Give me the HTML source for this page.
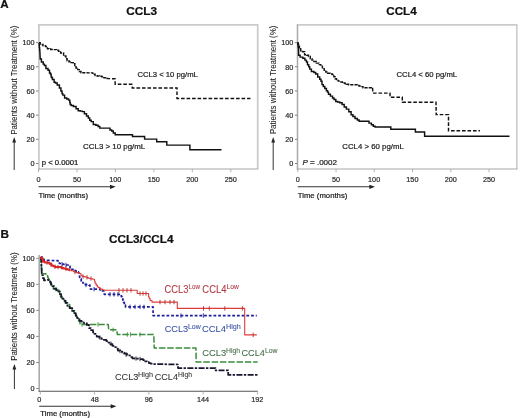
<!DOCTYPE html>
<html><head><meta charset="utf-8"><title>CCL3 CCL4 survival</title>
<style>html,body{margin:0;padding:0;background:#fff;width:520px;height:418px;overflow:hidden}svg{display:block;will-change:transform}</style>
</head><body>
<svg width="520" height="418" viewBox="0 0 520 418" font-family='"Liberation Sans", sans-serif'><rect width="520" height="418" fill="#fff"/><style>text{stroke-width:0.22px;stroke-linejoin:round}</style><text x="0.15" y="8.20" font-size="11.74" font-weight="bold" fill="#111" stroke="#111" textLength="8.43" lengthAdjust="spacingAndGlyphs">A</text><text x="0.57" y="237.90" font-size="11.30" font-weight="bold" fill="#111" stroke="#111" textLength="8.52" lengthAdjust="spacingAndGlyphs">B</text><text x="126.23" y="15.00" font-size="11.57" font-weight="bold" fill="#111" stroke="#111" textLength="30.97" lengthAdjust="spacingAndGlyphs">CCL3</text><text x="386.23" y="14.90" font-size="11.43" font-weight="bold" fill="#111" stroke="#111" textLength="30.48" lengthAdjust="spacingAndGlyphs">CCL4</text><text x="109.03" y="243.20" font-size="11.14" font-weight="bold" fill="#111" stroke="#111" textLength="64.48" lengthAdjust="spacingAndGlyphs">CCL3/CCL4</text><g fill="none"><polyline points="38.9,170 38.9,24.9 257.7,24.9 257.7,169" stroke="#cbcbcb" stroke-width="1.8"/><line x1="38.3" y1="169" x2="258.2" y2="169" stroke="#a8a8a8" stroke-width="1.15"/><polyline points="297.5,170 297.5,24.9 516.8,24.9 516.8,169" stroke="#cbcbcb" stroke-width="1.6"/><line x1="297.5" y1="24.5" x2="297.5" y2="170" stroke="#ababab" stroke-width="1.2"/><line x1="297.3" y1="169" x2="517.5" y2="169" stroke="#a8a8a8" stroke-width="1.15"/></g><text x="22.45" y="45.36" font-size="7.90" fill="#2a2a2a" stroke="#2a2a2a" textLength="12.13" lengthAdjust="spacingAndGlyphs">100</text><line x1="36.0" y1="42.60" x2="38.4" y2="42.60" stroke="#666" stroke-width="0.8"/><text x="26.52" y="69.55" font-size="7.90" fill="#2a2a2a" stroke="#2a2a2a" textLength="8.08" lengthAdjust="spacingAndGlyphs">80</text><line x1="36.0" y1="66.78" x2="38.4" y2="66.78" stroke="#666" stroke-width="0.8"/><text x="26.52" y="93.72" font-size="7.90" fill="#2a2a2a" stroke="#2a2a2a" textLength="8.08" lengthAdjust="spacingAndGlyphs">60</text><line x1="36.0" y1="90.96" x2="38.4" y2="90.96" stroke="#666" stroke-width="0.8"/><text x="26.52" y="117.91" font-size="7.90" fill="#2a2a2a" stroke="#2a2a2a" textLength="8.08" lengthAdjust="spacingAndGlyphs">40</text><line x1="36.0" y1="115.14" x2="38.4" y2="115.14" stroke="#666" stroke-width="0.8"/><text x="26.52" y="142.08" font-size="7.90" fill="#2a2a2a" stroke="#2a2a2a" textLength="8.08" lengthAdjust="spacingAndGlyphs">20</text><line x1="36.0" y1="139.32" x2="38.4" y2="139.32" stroke="#666" stroke-width="0.8"/><text x="30.52" y="166.26" font-size="7.90" fill="#2a2a2a" stroke="#2a2a2a" textLength="4.04" lengthAdjust="spacingAndGlyphs">0</text><line x1="36.0" y1="163.50" x2="38.4" y2="163.50" stroke="#666" stroke-width="0.8"/><text x="281.15" y="45.36" font-size="7.90" fill="#2a2a2a" stroke="#2a2a2a" textLength="12.13" lengthAdjust="spacingAndGlyphs">100</text><line x1="294.90000000000003" y1="42.60" x2="297.3" y2="42.60" stroke="#666" stroke-width="0.8"/><text x="285.22" y="69.55" font-size="7.90" fill="#2a2a2a" stroke="#2a2a2a" textLength="8.08" lengthAdjust="spacingAndGlyphs">80</text><line x1="294.90000000000003" y1="66.78" x2="297.3" y2="66.78" stroke="#666" stroke-width="0.8"/><text x="285.22" y="93.72" font-size="7.90" fill="#2a2a2a" stroke="#2a2a2a" textLength="8.08" lengthAdjust="spacingAndGlyphs">60</text><line x1="294.90000000000003" y1="90.96" x2="297.3" y2="90.96" stroke="#666" stroke-width="0.8"/><text x="285.22" y="117.91" font-size="7.90" fill="#2a2a2a" stroke="#2a2a2a" textLength="8.08" lengthAdjust="spacingAndGlyphs">40</text><line x1="294.90000000000003" y1="115.14" x2="297.3" y2="115.14" stroke="#666" stroke-width="0.8"/><text x="285.22" y="142.08" font-size="7.90" fill="#2a2a2a" stroke="#2a2a2a" textLength="8.08" lengthAdjust="spacingAndGlyphs">20</text><line x1="294.90000000000003" y1="139.32" x2="297.3" y2="139.32" stroke="#666" stroke-width="0.8"/><text x="289.22" y="166.26" font-size="7.90" fill="#2a2a2a" stroke="#2a2a2a" textLength="4.04" lengthAdjust="spacingAndGlyphs">0</text><line x1="294.90000000000003" y1="163.50" x2="297.3" y2="163.50" stroke="#666" stroke-width="0.8"/><text x="36.46" y="181.80" font-size="7.90" fill="#2a2a2a" stroke="#2a2a2a" textLength="4.04" lengthAdjust="spacingAndGlyphs">0</text><line x1="38.50" y1="169" x2="38.50" y2="172.2" stroke="#aaa" stroke-width="0.9"/><text x="72.92" y="181.80" font-size="7.90" fill="#2a2a2a" stroke="#2a2a2a" textLength="8.08" lengthAdjust="spacingAndGlyphs">50</text><line x1="76.95" y1="169" x2="76.95" y2="172.2" stroke="#aaa" stroke-width="0.9"/><text x="109.19" y="181.80" font-size="7.90" fill="#2a2a2a" stroke="#2a2a2a" textLength="12.13" lengthAdjust="spacingAndGlyphs">100</text><line x1="115.40" y1="169" x2="115.40" y2="172.2" stroke="#aaa" stroke-width="0.9"/><text x="147.64" y="181.80" font-size="7.90" fill="#2a2a2a" stroke="#2a2a2a" textLength="12.13" lengthAdjust="spacingAndGlyphs">150</text><line x1="153.85" y1="169" x2="153.85" y2="172.2" stroke="#aaa" stroke-width="0.9"/><text x="186.19" y="181.80" font-size="7.90" fill="#2a2a2a" stroke="#2a2a2a" textLength="12.13" lengthAdjust="spacingAndGlyphs">200</text><line x1="192.30" y1="169" x2="192.30" y2="172.2" stroke="#aaa" stroke-width="0.9"/><text x="224.64" y="181.80" font-size="7.90" fill="#2a2a2a" stroke="#2a2a2a" textLength="12.13" lengthAdjust="spacingAndGlyphs">250</text><line x1="230.75" y1="169" x2="230.75" y2="172.2" stroke="#aaa" stroke-width="0.9"/><text x="295.76" y="181.80" font-size="7.90" fill="#2a2a2a" stroke="#2a2a2a" textLength="4.04" lengthAdjust="spacingAndGlyphs">0</text><line x1="297.80" y1="169" x2="297.80" y2="172.2" stroke="#aaa" stroke-width="0.9"/><text x="332.02" y="181.80" font-size="7.90" fill="#2a2a2a" stroke="#2a2a2a" textLength="8.08" lengthAdjust="spacingAndGlyphs">50</text><line x1="336.05" y1="169" x2="336.05" y2="172.2" stroke="#aaa" stroke-width="0.9"/><text x="368.09" y="181.80" font-size="7.90" fill="#2a2a2a" stroke="#2a2a2a" textLength="12.13" lengthAdjust="spacingAndGlyphs">100</text><line x1="374.30" y1="169" x2="374.30" y2="172.2" stroke="#aaa" stroke-width="0.9"/><text x="406.34" y="181.80" font-size="7.90" fill="#2a2a2a" stroke="#2a2a2a" textLength="12.13" lengthAdjust="spacingAndGlyphs">150</text><line x1="412.55" y1="169" x2="412.55" y2="172.2" stroke="#aaa" stroke-width="0.9"/><text x="444.69" y="181.80" font-size="7.90" fill="#2a2a2a" stroke="#2a2a2a" textLength="12.13" lengthAdjust="spacingAndGlyphs">200</text><line x1="450.80" y1="169" x2="450.80" y2="172.2" stroke="#aaa" stroke-width="0.9"/><text x="482.94" y="181.80" font-size="7.90" fill="#2a2a2a" stroke="#2a2a2a" textLength="12.13" lengthAdjust="spacingAndGlyphs">250</text><line x1="489.05" y1="169" x2="489.05" y2="172.2" stroke="#aaa" stroke-width="0.9"/><line x1="38.5" y1="186.8" x2="111.5" y2="186.8" stroke="#333" stroke-width="1.05"/><path d="M115.7,186.8 L110.0,184.7 L110.0,188.9 Z" fill="#222"/><text x="38.45" y="198.10" font-size="7.81" fill="#222" stroke="#222" textLength="49.61" lengthAdjust="spacingAndGlyphs">Time (months)</text><line x1="14.2" y1="170" x2="14.2" y2="141" stroke="#333" stroke-width="1"/><path d="M14.2,137 L12.299999999999999,142.5 L16.099999999999998,142.5 Z" fill="#222"/><text transform="translate(16.50,134.84) rotate(-90)" x="0" y="0" font-size="8.71" fill="#222" stroke="#222" textLength="109.34" lengthAdjust="spacingAndGlyphs" style="stroke-width:0.05px">Patients without Treatment (%)</text><line x1="297.8" y1="186.8" x2="370.8" y2="186.8" stroke="#333" stroke-width="1.05"/><path d="M375.0,186.8 L369.3,184.7 L369.3,188.9 Z" fill="#222"/><text x="297.75" y="198.10" font-size="7.81" fill="#222" stroke="#222" textLength="49.61" lengthAdjust="spacingAndGlyphs">Time (months)</text><line x1="273.2" y1="170" x2="273.2" y2="141" stroke="#333" stroke-width="1"/><path d="M273.2,137 L271.3,142.5 L275.09999999999997,142.5 Z" fill="#222"/><text transform="translate(276.20,134.24) rotate(-90)" x="0" y="0" font-size="9.00" fill="#222" stroke="#222" textLength="108.73" lengthAdjust="spacingAndGlyphs" style="stroke-width:0.05px">Patients without Treatment (%)</text><g fill="none" stroke="#111" stroke-width="1.45" stroke-linejoin="miter"><polyline points="39.0,43.0 39.1,43.0 39.1,45.0 39.3,45.0 39.3,47.5 39.6,47.5 39.6,50.0 39.8,50.0 40.2,58.9 41.4,58.9 41.4,62.0 42.5,62.0 43.2,62.0 43.2,64.1 44.4,64.1 44.4,65.5 45.0,65.5 45.9,65.5 45.9,68.5 46.8,68.5 48.0,68.5 48.0,70.3 49.2,70.3 49.5,70.3 49.5,72.9 50.4,72.9 50.4,73.9 51.0,73.9 51.1,73.9 51.1,76.1 51.4,76.1 51.4,77.5 51.6,77.5 52.4,77.5 52.4,79.5 54.1,79.5 54.1,82.3 55.1,82.3 55.5,82.3 55.5,82.9 56.0,82.9 57.2,82.9 57.2,85.0 58.5,85.0 59.4,85.0 59.4,87.9 60.3,87.9 60.9,87.9 60.9,91.0 61.5,91.0 62.0,91.0 62.0,93.6 62.8,93.6 62.8,95.1 63.2,95.1 64.6,95.1 64.6,97.9 66.0,97.9 66.8,97.9 66.8,99.0 68.6,99.0 68.6,100.1 69.6,100.1 69.8,100.1 69.8,102.4 70.2,102.4 70.2,104.4 70.3,104.4 71.2,104.4 71.2,105.5 73.4,105.5 73.4,106.5 74.7,106.5 76.1,106.5 76.1,108.7 77.5,108.7 78.2,108.7 78.2,110.8 79.0,110.8 80.3,110.8 80.3,111.1 82.4,111.1 82.4,111.6 83.3,111.6 84.4,111.6 84.4,113.7 86.5,113.7 86.5,115.9 87.6,115.9 88.3,115.9 88.3,118.0 89.7,118.0 89.7,120.3 91.2,120.3 91.2,121.6 91.9,121.6 93.3,121.6 93.3,124.5 94.7,124.5 95.9,124.5 95.9,125.3 98.1,125.3 98.1,126.4 99.8,126.4 99.8,128.1 100.5,128.1 109.0,128.1 110.0,128.1 110.0,130.0 111.7,130.0 111.7,131.0 112.5,131.0 113.3,131.0 113.3,133.0 115.2,133.0 115.2,134.8 116.3,134.8 132.5,134.8 132.5,136.5 144.6,136.5 144.6,139.1 156.7,139.1 156.7,141.7 166.8,141.7 166.8,145.1 189.9,145.1 189.9,149.8 221.5,149.8"/><polyline points="39.0,42.8 40.2,42.8 40.2,44.5 41.5,44.5 43.0,44.5 43.0,45.8 44.4,45.8 45.6,45.8 45.6,46.6 47.4,46.6 47.4,48.8 48.0,48.8 48.9,48.8 48.9,49.0 50.7,49.0 50.7,49.4 53.3,49.4 53.3,49.6 55.1,49.6 56.4,49.6 56.4,50.3 58.5,50.3 58.5,51.2 59.3,51.2 60.6,51.2 60.6,53.0 62.0,53.0 63.6,53.0 63.6,56.0 65.3,56.0 65.9,56.0 65.9,58.8 67.1,58.8 67.1,60.7 67.7,60.7 69.0,60.7 69.0,61.7 71.1,61.7 71.1,62.6 73.2,62.6 73.2,63.7 74.3,63.7 74.8,63.7 74.8,65.4 76.0,65.4 76.0,67.9 76.7,67.9 77.7,67.9 77.7,69.6 79.2,69.6 79.2,71.5 79.7,71.5 81.0,71.5 81.0,72.7 82.3,72.7 91.5,72.9 92.8,72.9 92.8,74.3 95.1,74.3 95.1,75.6 96.1,75.6 97.1,75.6 97.1,76.0 99.3,76.0 99.3,76.3 101.8,76.3 101.8,76.7 103.1,76.7 103.9,76.7 103.9,77.8 105.6,77.8 105.6,78.5 106.5,78.5" stroke-dasharray="3.2 1.1"/><polyline points="106.5,78.5 115.0,78.8 115.2,84.2 131.8,84.2 132.3,88.0 177.0,88.0 177.0,98.4 250.4,98.4" stroke-dasharray="3.6 1.9"/><polyline points="297.6,42.8 297.8,42.8 297.8,44.1 298.2,44.1 298.2,47.2 298.5,47.2 298.5,50.0 298.6,50.0 298.6,55.3 300.1,55.3 300.1,57.1 301.6,57.1 302.8,57.1 302.8,58.3 304.0,58.3 304.9,58.3 304.9,60.1 306.4,60.1 306.4,61.9 307.0,61.9 307.5,61.9 307.5,64.7 308.7,64.7 308.7,66.7 309.4,66.7 309.7,66.7 309.7,69.1 310.0,69.1 311.4,69.1 311.4,71.5 312.9,71.5 313.9,71.5 313.9,72.4 315.7,72.4 315.7,73.9 316.5,73.9 317.7,73.9 317.7,76.9 318.9,76.9 319.7,76.9 319.7,79.3 321.0,79.3 321.0,81.2 321.5,81.2 322.0,81.2 322.0,84.6 323.3,84.6 323.3,86.5 324.0,86.5 324.8,86.5 324.8,88.5 326.4,88.5 326.4,90.8 327.2,90.8 327.6,90.8 327.6,92.1 328.5,92.1 328.5,94.3 329.0,94.3 330.4,94.3 330.4,96.1 332.5,96.1 332.5,97.9 333.1,97.9 334.0,97.9 334.0,99.4 335.8,99.4 335.8,101.5 336.7,101.5 337.6,101.5 337.6,102.0 339.7,102.0 339.7,102.7 340.9,102.7 342.1,102.7 342.1,104.5 344.2,104.5 344.2,106.9 345.1,106.9 346.4,106.9 346.4,109.1 348.8,109.1 348.8,111.7 349.9,111.7 351.1,111.7 351.1,114.7 352.9,114.7 352.9,116.4 353.5,116.4 355.0,116.4 355.0,118.4 357.3,118.4 357.3,120.0 358.2,120.0 359.1,120.0 359.1,121.2 360.0,121.2 367.8,121.2 369.0,121.2 369.0,123.1 371.4,123.1 371.4,124.8 372.6,124.8 373.3,124.8 373.3,126.3 375.1,126.3 375.1,127.0 376.2,127.0 390.8,127.0 390.8,129.2 415.4,129.2 415.4,132.0 424.6,132.0 424.6,136.3 509.5,136.3"/><polyline points="297.6,42.8 298.0,42.8 298.0,44.7 298.6,44.7 298.6,46.3 299.4,46.3 299.4,48.8 299.8,48.8 300.7,48.8 300.7,50.7 302.5,50.7 302.5,51.8 303.4,51.8 304.6,51.8 304.6,54.7 305.8,54.7 306.7,54.7 306.7,55.3 308.5,55.3 308.5,56.5 309.4,56.5 310.3,56.5 310.3,58.8 312.0,58.8 312.0,60.1 312.9,60.1 313.9,60.1 313.9,61.5 316.3,61.5 316.3,63.1 317.7,63.1 319.0,63.1 319.0,64.6 320.8,64.6 320.8,66.1 321.3,66.1 322.4,66.1 322.4,68.7 324.2,68.7 324.2,70.3 324.9,70.3 325.8,70.3 325.8,72.0 327.6,72.0 327.6,73.3 328.5,73.3 329.9,73.3 329.9,73.9 332.3,73.9 332.3,74.5 333.3,74.5 333.9,74.5 333.9,76.8 335.1,76.8 335.1,78.7 335.7,78.7 336.5,78.7 336.5,80.4 338.3,80.4 338.3,81.1 339.3,81.1 340.1,81.1 340.1,81.9 342.4,81.9 342.4,83.0 344.0,83.0 344.9,83.0 344.9,83.5 346.5,83.5 346.5,84.3 348.6,84.3 348.6,84.8 349.9,84.8 355.8,84.8 357.0,84.8 357.0,85.5 359.1,85.5 359.1,86.0 360.9,86.0 360.9,86.6 361.8,86.6 363.0,86.6 363.0,87.8 364.2,87.8 372.6,87.8" stroke-dasharray="3.2 1.1"/><polyline points="372.6,87.8 372.8,93.1 390.0,93.1 390.0,97.2 402.3,97.2 402.3,102.3 436.0,102.3 436.2,114.6 448.5,114.6 448.5,130.8 480.0,130.8" stroke-dasharray="3.6 1.9"/></g><text x="137.42" y="77.00" font-size="7.71" fill="#222" stroke="#222" textLength="60.46" lengthAdjust="spacingAndGlyphs">CCL3 &lt; 10 pg/mL</text><text x="83.10" y="149.10" font-size="7.86" fill="#222" stroke="#222" textLength="62.18" lengthAdjust="spacingAndGlyphs">CCL3 &gt; 10 pg/mL</text><text x="396.51" y="77.10" font-size="7.71" fill="#222" stroke="#222" textLength="60.66" lengthAdjust="spacingAndGlyphs">CCL4 &lt; 60 pg/mL</text><text x="342.31" y="149.10" font-size="7.86" fill="#222" stroke="#222" textLength="61.47" lengthAdjust="spacingAndGlyphs">CCL4 &gt; 60 pg/mL</text><text x="41.76" y="165.10" font-size="6.86" fill="#222" stroke="#222" textLength="36.66" lengthAdjust="spacingAndGlyphs">p &lt; 0.0001</text><text x="302.4" y="165.3" font-size="8.1" fill="#222" stroke="#222" textLength="34.6" lengthAdjust="spacingAndGlyphs"><tspan font-style="italic">P</tspan> = .0002</text><line x1="39.2" y1="255" x2="39.2" y2="392" stroke="#aaa" stroke-width="1.6"/><line x1="38.8" y1="391.3" x2="258" y2="391.3" stroke="#555" stroke-width="1.1"/><text x="22.45" y="261.06" font-size="7.90" fill="#2a2a2a" stroke="#2a2a2a" textLength="12.13" lengthAdjust="spacingAndGlyphs">100</text><line x1="36.300000000000004" y1="258.30" x2="38.7" y2="258.30" stroke="#666" stroke-width="0.8"/><text x="26.52" y="287.11" font-size="7.90" fill="#2a2a2a" stroke="#2a2a2a" textLength="8.08" lengthAdjust="spacingAndGlyphs">80</text><line x1="36.300000000000004" y1="284.34" x2="38.7" y2="284.34" stroke="#666" stroke-width="0.8"/><text x="26.52" y="313.14" font-size="7.90" fill="#2a2a2a" stroke="#2a2a2a" textLength="8.08" lengthAdjust="spacingAndGlyphs">60</text><line x1="36.300000000000004" y1="310.38" x2="38.7" y2="310.38" stroke="#666" stroke-width="0.8"/><text x="26.52" y="339.19" font-size="7.90" fill="#2a2a2a" stroke="#2a2a2a" textLength="8.08" lengthAdjust="spacingAndGlyphs">40</text><line x1="36.300000000000004" y1="336.42" x2="38.7" y2="336.42" stroke="#666" stroke-width="0.8"/><text x="26.52" y="365.22" font-size="7.90" fill="#2a2a2a" stroke="#2a2a2a" textLength="8.08" lengthAdjust="spacingAndGlyphs">20</text><line x1="36.300000000000004" y1="362.46" x2="38.7" y2="362.46" stroke="#666" stroke-width="0.8"/><text x="30.52" y="391.26" font-size="7.90" fill="#2a2a2a" stroke="#2a2a2a" textLength="4.04" lengthAdjust="spacingAndGlyphs">0</text><line x1="36.300000000000004" y1="388.50" x2="38.7" y2="388.50" stroke="#666" stroke-width="0.8"/><text x="37.26" y="401.90" font-size="7.90" fill="#2a2a2a" stroke="#2a2a2a" textLength="4.04" lengthAdjust="spacingAndGlyphs">0</text><line x1="40.30" y1="391.3" x2="40.30" y2="394.5" stroke="#aaa" stroke-width="0.9"/><text x="90.63" y="401.90" font-size="7.90" fill="#2a2a2a" stroke="#2a2a2a" textLength="8.08" lengthAdjust="spacingAndGlyphs">48</text><line x1="94.59" y1="391.3" x2="94.59" y2="394.5" stroke="#aaa" stroke-width="0.9"/><text x="144.81" y="401.90" font-size="7.90" fill="#2a2a2a" stroke="#2a2a2a" textLength="8.08" lengthAdjust="spacingAndGlyphs">96</text><line x1="148.88" y1="391.3" x2="148.88" y2="394.5" stroke="#aaa" stroke-width="0.9"/><text x="196.91" y="401.90" font-size="7.90" fill="#2a2a2a" stroke="#2a2a2a" textLength="12.13" lengthAdjust="spacingAndGlyphs">144</text><line x1="203.16" y1="391.3" x2="203.16" y2="394.5" stroke="#aaa" stroke-width="0.9"/><text x="251.27" y="401.90" font-size="7.90" fill="#2a2a2a" stroke="#2a2a2a" textLength="12.13" lengthAdjust="spacingAndGlyphs">192</text><line x1="257.45" y1="391.3" x2="257.45" y2="394.5" stroke="#aaa" stroke-width="0.9"/><line x1="39.2" y1="406.3" x2="112" y2="406.3" stroke="#333" stroke-width="1.05"/><path d="M116.4,406.3 L110.7,404.2 L110.7,408.4 Z" fill="#222"/><text x="40.24" y="415.60" font-size="7.26" fill="#222" stroke="#222" textLength="49.81" lengthAdjust="spacingAndGlyphs">Time (months)</text><line x1="14.4" y1="389" x2="14.4" y2="368" stroke="#333" stroke-width="1"/><path d="M14.4,364 L12.5,369.5 L16.3,369.5 Z" fill="#222"/><text transform="translate(17.10,360.83) rotate(-90)" x="0" y="0" font-size="8.86" fill="#222" stroke="#222" textLength="108.43" lengthAdjust="spacingAndGlyphs" style="stroke-width:0.05px">Patients without Treatment (%)</text><g fill="none" stroke-linejoin="round"><polyline points="40.9,256.9 41.0,256.9 41.0,259.7 41.1,259.7 41.1,262.0 41.2,262.0 41.2,264.8 41.3,264.8 41.3,266.0 41.5,266.0 41.5,267.9 41.6,267.9 41.6,269.3 41.7,269.3 41.7,271.4 41.8,271.4 41.8,273.5 41.8,273.5 42.9,273.5 42.9,273.7 45.6,273.7 45.6,274.1 47.1,274.1 47.6,274.1 47.6,277.3 48.3,277.3 48.3,278.9 48.5,278.9 49.1,278.9 49.1,280.2 50.0,280.2 50.0,281.5 50.7,281.5 50.7,284.1 51.7,284.1 51.7,286.6 52.4,286.6 53.3,286.6 53.3,289.0 54.3,289.0 58.1,289.4 58.6,289.4 58.6,291.7 59.7,291.7 59.7,294.4 60.6,294.4 60.6,297.1 61.6,297.1 61.6,298.6 62.3,298.6 63.5,298.6 63.5,300.9 65.7,300.9 65.7,302.9 66.6,302.9 67.5,302.9 67.5,304.4 69.7,304.4 69.7,308.0 70.9,308.0 72.0,308.0 72.0,310.9 74.1,310.9 74.1,313.0 75.2,313.0 75.9,313.0 75.9,316.4 77.3,316.4 77.3,318.0 78.1,318.0 78.6,318.0 78.6,320.7 79.4,320.7 79.4,321.8 80.0,321.8 80.0,324.4 80.5,324.4 108.2,324.4 108.7,329.8 116.8,329.8 117.3,334.5 153.8,334.5 154.2,348.1 195.9,348.1 196.2,362.1 257.6,362.1" stroke="#3c8c3c" stroke-width="1.5" stroke-dasharray="6.5 1.8"/><g stroke="#3c8c3c" stroke-width="0.9"><line x1="56" y1="287.0" x2="56" y2="291.4"/><line x1="82" y1="322.2" x2="82" y2="326.59999999999997"/><line x1="98" y1="322.2" x2="98" y2="326.59999999999997"/><line x1="113.1" y1="327.6" x2="113.1" y2="332.0"/><line x1="127.3" y1="332.3" x2="127.3" y2="336.7"/><line x1="130.4" y1="332.3" x2="130.4" y2="336.7"/><line x1="140" y1="332.3" x2="140" y2="336.7"/></g><polyline points="40.9,256.9 41.0,256.9 41.0,259.6 41.2,259.6 41.2,261.5 41.3,261.5 41.3,264.2 41.4,264.2 41.4,265.8 41.5,265.8 41.5,268.6 41.6,268.6 41.6,271.2 41.7,271.2 41.7,273.2 41.8,273.2 42.2,273.2 42.2,275.1 42.9,275.1 42.9,278.0 43.3,278.0 44.0,278.0 44.0,280.4 44.7,280.4 47.6,279.9 48.5,279.9 48.5,281.3 49.5,281.3 50.1,281.3 50.1,282.4 51.0,282.4 51.0,284.7 51.4,284.7 52.3,284.7 52.3,286.1 53.3,286.1 54.2,286.1 54.2,288.5 55.2,288.5 56.3,288.5 56.3,290.2 58.2,290.2 58.2,291.4 59.0,291.4 60.0,291.4 60.0,294.2 61.0,294.2 61.2,294.2 61.2,296.8 61.9,296.8 61.9,298.6 62.3,298.6 63.4,298.6 63.4,300.6 65.5,300.6 65.5,302.9 66.6,302.9 67.4,302.9 67.4,305.8 69.6,305.8 69.6,308.0 70.9,308.0 72.3,308.0 72.3,310.9 74.4,310.9 74.4,313.0 75.2,313.0 75.7,313.0 75.7,315.7 77.2,315.7 77.2,318.0 78.1,318.0 79.5,318.0 79.5,320.9 81.0,320.9 81.7,320.9 81.7,322.4 83.9,322.4 83.9,323.0 85.3,323.0 86.8,323.0 86.8,324.9 89.0,324.9 89.0,328.0 89.6,328.0 90.9,328.0 90.9,330.1 93.0,330.1 93.0,332.3 93.9,332.3 94.5,332.3 94.5,333.9 96.7,333.9 96.7,336.6 98.2,336.6 99.4,336.6 99.4,338.1 101.6,338.1 101.6,338.8 102.5,338.8 103.8,338.8 103.8,339.8 106.4,339.8 106.4,341.0 107.7,341.0 108.5,341.0 108.5,342.5 110.3,342.5 110.3,344.0 112.4,344.0 112.4,345.8 113.5,345.8 114.4,345.8 114.4,347.0 116.0,347.0 116.0,348.6 117.9,348.6 117.9,350.6 119.2,350.6 120.3,350.6 120.3,351.6 122.3,351.6 122.3,352.5 124.2,352.5 124.2,353.7 127.0,353.7 127.0,355.4 128.8,355.4 129.9,355.4 129.9,357.0 132.4,357.0 132.4,358.3 133.7,358.3 134.7,358.3 134.7,358.5 136.9,358.5 136.9,358.7 139.4,358.7 139.4,359.0 141.5,359.0 141.5,359.2 142.3,359.2 143.1,359.2 143.1,360.1 145.0,360.1 145.0,361.3 147.1,361.3 147.1,362.1 148.1,362.1 148.9,362.1 148.9,363.1 150.6,363.1 150.6,363.6 152.6,363.6 152.6,364.0 153.8,364.0 178.0,364.5 178.0,368.0 214.2,368.0 215.6,368.0 215.6,370.4 216.9,370.4 228.2,370.4 228.2,374.9 257.6,374.9" stroke="#16162e" stroke-width="1.75" stroke-dasharray="6 1.4 2.4 1.4"/><g stroke="#222" stroke-width="0.9"><line x1="100" y1="335.5" x2="100" y2="339.9"/><line x1="111" y1="341.6" x2="111" y2="346.0"/><line x1="120" y1="348.8" x2="120" y2="353.2"/><line x1="126" y1="352.3" x2="126" y2="356.7"/><line x1="136" y1="356.3" x2="136" y2="360.7"/><line x1="140" y1="356.8" x2="140" y2="361.2"/></g><polyline points="40.9,256.9 42.0,256.9 42.0,259.2 43.9,259.2 43.9,260.3 44.7,260.3 57.1,260.7 58.0,260.7 58.0,263.1 59.0,263.1 59.7,263.1 59.7,263.5 61.6,263.5 61.6,264.1 62.9,264.1 63.8,264.1 63.8,264.5 65.7,264.5 65.7,265.0 66.7,265.0 68.2,265.0 68.2,266.0 69.6,266.0 70.0,266.0 70.0,267.9 71.0,267.9 71.0,269.4 71.5,269.4 73.0,269.4 73.0,270.7 74.6,270.7 76.1,270.7 76.1,271.9 78.4,271.9 78.4,273.0 79.2,273.0 79.8,278.7 81.2,278.7 81.2,281.0 82.7,281.0 82.9,281.0 82.9,283.0 83.5,283.0 83.5,284.5 83.8,284.5 85.2,284.5 85.2,284.7 87.4,284.7 87.4,284.9 88.9,284.9 88.9,285.1 89.6,285.1 89.9,285.1 89.9,287.3 90.5,287.3 90.5,289.1 90.8,289.1 98.8,289.1 100.0,289.1 100.0,289.8 102.3,289.8 102.3,290.8 103.4,290.8 103.7,290.8 103.7,292.9 104.3,292.9 104.3,294.3 104.6,294.3 120.7,294.3 121.3,294.3 121.3,296.6 121.9,296.6 122.2,296.6 122.2,298.0 122.8,298.0 122.8,300.1 123.1,300.1 123.4,300.1 123.4,302.3 124.3,302.3 124.3,305.2 125.5,305.2 125.5,306.9 126.2,306.9 153.1,306.9 153.1,315.6 256.8,315.6" stroke="#1c1c9c" stroke-width="1.7" stroke-dasharray="2.8 1.9"/><g stroke="#1c1c9c" stroke-width="0.9"><line x1="62" y1="261.90000000000003" x2="62" y2="266.3"/><line x1="66" y1="262.8" x2="66" y2="267.2"/><line x1="86" y1="282.8" x2="86" y2="287.2"/><line x1="94" y1="286.90000000000003" x2="94" y2="291.3"/><line x1="110" y1="292.1" x2="110" y2="296.5"/><line x1="114" y1="292.1" x2="114" y2="296.5"/><line x1="118" y1="292.1" x2="118" y2="296.5"/><line x1="130" y1="304.7" x2="130" y2="309.09999999999997"/><line x1="135" y1="304.7" x2="135" y2="309.09999999999997"/><line x1="140" y1="304.7" x2="140" y2="309.09999999999997"/><line x1="144" y1="304.7" x2="144" y2="309.09999999999997"/><line x1="181" y1="313.40000000000003" x2="181" y2="317.8"/><line x1="203.3" y1="313.40000000000003" x2="203.3" y2="317.8"/></g><polyline points="40.9,256.9 41.4,256.9 41.4,258.5 42.8,258.5 42.8,261.7 43.7,261.7 44.8,261.7 44.8,262.4 47.2,262.4 47.2,262.7 48.5,262.7 49.6,262.7 49.6,264.1 51.5,264.1 51.5,265.5 52.4,265.5 53.1,265.5 53.1,266.2 55.0,266.2 55.0,267.0 56.2,267.0 60.0,267.0 61.5,267.0 61.5,267.9 62.9,267.9 63.6,267.9 63.6,268.5 65.5,268.5 65.5,268.9 66.7,268.9 67.3,268.9 67.3,269.4 69.2,269.4 69.2,270.3 70.5,270.3" stroke="#e02828" stroke-width="2"/><polyline points="70.5,270.3 71.6,270.3 71.6,270.8 73.6,270.8 73.6,271.8 74.6,271.8 75.1,271.8 75.1,272.2 76.6,272.2 76.6,272.8 79.0,272.8 79.0,273.5 80.4,273.5 81.0,273.5 81.0,275.8 81.5,275.8 82.8,275.8 82.8,276.6 85.1,276.6 85.1,277.0 86.1,277.0 86.9,277.0 86.9,277.6 88.3,277.6 88.3,278.2 90.1,278.2 90.1,278.7 92.7,278.7 92.7,279.3 94.2,279.3 94.5,279.3 94.5,281.3 95.1,281.3 95.1,283.3 95.4,283.3 96.1,283.3 96.1,285.1 97.3,285.1 97.3,286.8 97.7,286.8 98.3,286.8 98.3,287.6 100.0,287.6 100.0,289.1 101.1,289.1 102.3,289.1 102.3,289.7 104.1,289.7 104.1,290.3 104.6,290.3 136.7,290.3 137.2,290.3 137.2,293.5 137.7,293.5 148.3,293.5 148.6,293.5 148.6,296.6 149.1,296.6 149.1,298.3 149.2,298.3 150.1,298.3 150.1,300.5 152.0,300.5 152.0,302.1 153.1,302.1 177.3,302.1 177.3,308.4 244.7,308.4 244.7,334.9 256.8,334.9" stroke="#dd3a3a" stroke-width="1.1"/><g stroke="#b03030" stroke-width="0.9"><line x1="47" y1="260.3" x2="47" y2="264.7"/><line x1="51" y1="262.3" x2="51" y2="266.7"/><line x1="55" y1="264.6" x2="55" y2="269.0"/><line x1="58" y1="264.8" x2="58" y2="269.2"/><line x1="62" y1="265.3" x2="62" y2="269.7"/><line x1="66" y1="266.5" x2="66" y2="270.9"/><line x1="75" y1="269.8" x2="75" y2="274.2"/><line x1="83" y1="274.3" x2="83" y2="278.7"/><line x1="87" y1="275.1" x2="87" y2="279.5"/><line x1="91" y1="276.3" x2="91" y2="280.7"/><line x1="119" y1="288.1" x2="119" y2="292.5"/><line x1="123" y1="288.1" x2="123" y2="292.5"/><line x1="127" y1="288.1" x2="127" y2="292.5"/><line x1="131" y1="288.1" x2="131" y2="292.5"/><line x1="140" y1="291.3" x2="140" y2="295.7"/><line x1="143" y1="291.3" x2="143" y2="295.7"/><line x1="146" y1="291.3" x2="146" y2="295.7"/><line x1="160" y1="299.90000000000003" x2="160" y2="304.3"/><line x1="165" y1="299.90000000000003" x2="165" y2="304.3"/><line x1="170" y1="299.90000000000003" x2="170" y2="304.3"/><line x1="174" y1="299.90000000000003" x2="174" y2="304.3"/><line x1="203.5" y1="306.2" x2="203.5" y2="310.59999999999997"/><line x1="209.3" y1="306.2" x2="209.3" y2="310.59999999999997"/><line x1="224.8" y1="306.2" x2="224.8" y2="310.59999999999997"/><line x1="242.4" y1="306.2" x2="242.4" y2="310.59999999999997"/><line x1="253.2" y1="332.7" x2="253.2" y2="337.09999999999997"/></g></g><text x="164.43" y="292.90" font-size="10.43" fill="#b03844" stroke="#b03844" textLength="24.01" lengthAdjust="spacingAndGlyphs" style="stroke-width:0.08px">CCL3</text><text x="188.60" y="289.40" font-size="7.39" fill="#b03844" stroke="#b03844" textLength="11.36" lengthAdjust="spacingAndGlyphs" style="stroke-width:0.08px">Low</text><text x="202.33" y="292.90" font-size="10.43" fill="#b03844" stroke="#b03844" textLength="24.12" lengthAdjust="spacingAndGlyphs" style="stroke-width:0.08px">CCL4</text><text x="226.46" y="289.40" font-size="7.39" fill="#b03844" stroke="#b03844" textLength="12.30" lengthAdjust="spacingAndGlyphs" style="stroke-width:0.08px">Low</text><text x="164.74" y="332.20" font-size="9.86" fill="#3850a6" stroke="#3850a6" textLength="23.38" lengthAdjust="spacingAndGlyphs" style="stroke-width:0.08px">CCL3</text><text x="187.95" y="329.10" font-size="7.39" fill="#3850a6" stroke="#3850a6" textLength="12.72" lengthAdjust="spacingAndGlyphs" style="stroke-width:0.08px">Low</text><text x="201.93" y="332.20" font-size="9.86" fill="#3850a6" stroke="#3850a6" textLength="24.02" lengthAdjust="spacingAndGlyphs" style="stroke-width:0.08px">CCL4</text><text x="226.02" y="329.10" font-size="6.99" fill="#3850a6" stroke="#3850a6" textLength="14.86" lengthAdjust="spacingAndGlyphs" style="stroke-width:0.08px">High</text><text x="202.23" y="355.80" font-size="9.14" fill="#466e46" stroke="#466e46" textLength="24.01" lengthAdjust="spacingAndGlyphs" style="stroke-width:0.08px">CCL3</text><text x="225.95" y="353.20" font-size="6.99" fill="#466e46" stroke="#466e46" textLength="14.11" lengthAdjust="spacingAndGlyphs" style="stroke-width:0.08px">High</text><text x="241.44" y="355.80" font-size="9.14" fill="#466e46" stroke="#466e46" textLength="23.40" lengthAdjust="spacingAndGlyphs" style="stroke-width:0.08px">CCL4</text><text x="264.95" y="353.20" font-size="7.39" fill="#466e46" stroke="#466e46" textLength="12.61" lengthAdjust="spacingAndGlyphs" style="stroke-width:0.08px">Low</text><text x="114.94" y="379.90" font-size="9.86" fill="#333" stroke="#333" textLength="23.38" lengthAdjust="spacingAndGlyphs" style="stroke-width:0.08px">CCL3</text><text x="138.12" y="376.80" font-size="6.99" fill="#333" stroke="#333" textLength="14.97" lengthAdjust="spacingAndGlyphs" style="stroke-width:0.08px">High</text><text x="154.75" y="379.90" font-size="9.86" fill="#333" stroke="#333" textLength="23.20" lengthAdjust="spacingAndGlyphs" style="stroke-width:0.08px">CCL4</text><text x="177.96" y="376.80" font-size="6.99" fill="#333" stroke="#333" textLength="14.00" lengthAdjust="spacingAndGlyphs" style="stroke-width:0.08px">High</text></svg>
</body></html>
